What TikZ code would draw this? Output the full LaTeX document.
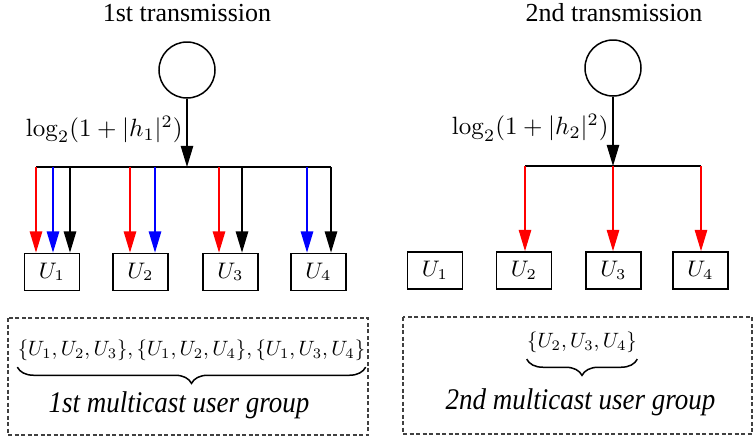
\documentclass[tikz,border=0pt]{standalone}
\usepackage[no-math]{fontspec}
\setmainfont{Liberation Serif}
\usetikzlibrary{arrows.meta,decorations.pathreplacing}

\tikzset{
  arr/.style={-{Triangle[length=8.5pt,width=5pt]}, line width=0.5pt},
  userbox/.style={draw, line width=0.7pt, minimum width=22pt, minimum height=14.8pt, inner sep=0pt, font=\small},
  src/.style={draw, circle, line width=0.6pt, minimum size=22.4pt, inner sep=0pt},
  groupbox/.style={draw=black!75, line width=0.5pt, dash pattern=on 1.6pt off 1pt},
  title/.style={font=\fontsize{10.4}{12}\selectfont},
  grouplabel/.style={font=\fontsize{12}{14}\selectfont\itshape},
  setlabel/.style={inner sep=0pt}
}

\begin{document}
\begin{tikzpicture}[x=0.4pt,y=-0.4pt]
    \useasboundingbox (0,0) rectangle (754,441);

    % 第一次传输
    \node[title] (title1) at (187,13) {1st transmission};
    \node[src] (src1) at (187,70) {};
    \coordinate (bus1) at (187,167);
    \coordinate (busL1) at (36,167);
    \coordinate (busR1) at (331,167);
    \draw[arr] (src1) -- node[pos=0.45, left, inner sep=1.5pt] {$\log_2(1+|h_1|^2)$} (bus1);
    \draw[line width=0.5pt] (busL1) -- (busR1);

    % 用户
    \node[userbox] (a1) at (52,272) {$U_1$};
    \node[userbox] (a2) at (140.5,272) {$U_2$};
    \node[userbox] (a3) at (230.5,272) {$U_3$};
    \node[userbox] (a4) at (318.5,272) {$U_4$};

    % 向下的箭头
    \draw[arr, red]  ([xshift=-6.4pt]a1.north |- bus1) -- ([xshift=-6.4pt]a1.north);
    \draw[arr, blue] ([xshift=0.4pt]a1.north |- bus1) -- ([xshift=0.4pt]a1.north);
    \draw[arr]       ([xshift=7.2pt]a1.north |- bus1) -- ([xshift=7.2pt]a1.north);
    \draw[arr, red]  ([xshift=-4.2pt]a2.north |- bus1) -- ([xshift=-4.2pt]a2.north);
    \draw[arr, blue] ([xshift=5.8pt]a2.north |- bus1) -- ([xshift=5.8pt]a2.north);
    \draw[arr, red]  ([xshift=-4.6pt]a3.north |- bus1) -- ([xshift=-4.6pt]a3.north);
    \draw[arr]       ([xshift=4.6pt]a3.north |- bus1) -- ([xshift=4.6pt]a3.north);
    \draw[arr, blue] ([xshift=-4.6pt]a4.north |- bus1) -- ([xshift=-4.6pt]a4.north);
    \draw[arr]       (busR1) -- (busR1 |- a4.north);

    % 第二次传输
    \node[title] (title2) at (614,13) {2nd transmission};
    \node[src] (src2) at (613,68) {};
    \coordinate (bus2) at (613,166);
    \coordinate (busL2) at (525,166);
    \coordinate (busR2) at (701,166);
    \draw[arr] (src2) -- node[pos=0.45, left, inner sep=1.5pt] {$\log_2(1+|h_2|^2)$} (bus2);
    \draw[line width=0.5pt] (busL2) -- (busR2);

    \node[userbox] (b1) at (435,270.5) {$U_1$};
    \node[userbox] (b2) at (524,270.5) {$U_2$};
    \node[userbox] (b3) at (613.5,270.5) {$U_3$};
    \node[userbox] (b4) at (700.5,270.5) {$U_4$};

    \draw[arr, red] (busL2) -- (busL2 |- b2.north);
    \draw[arr, red] (bus2) -- (bus2 |- b3.north);
    \draw[arr, red] (busR2) -- (busR2 |- b4.north);

    % 多播用户组
    \draw[groupbox] (8,318) rectangle (368,435);
    \draw[groupbox] (403,317) rectangle (752,434);

    \node[setlabel] (set1) at (191.5,350) {\scalebox{0.83}{$\{U_1,U_2,U_3\},\{U_1,U_2,U_4\},\{U_1,U_3,U_4\}$}};
    \draw[line width=0.6pt, decorate, decoration={brace, mirror, amplitude=6.5pt}]
        ([yshift=-2.5pt]set1.south west) -- ([yshift=-2.5pt]set1.south east);
    \node[grouplabel] (grp1) at (179,405) {\scalebox{0.9}[1]{1st multicast user group}};

    \node[setlabel] (set2) at (582,342) {\scalebox{0.83}{$\{U_2,U_3,U_4\}$}};
    \draw[line width=0.6pt, decorate, decoration={brace, mirror, amplitude=6.5pt}]
        ([yshift=-2.5pt]set2.south west) -- ([yshift=-2.5pt]set2.south east);
    \node[grouplabel] (grp2) at (580.5,402) {\scalebox{0.9}[1]{2nd multicast user group}};

\end{tikzpicture}
\end{document}
